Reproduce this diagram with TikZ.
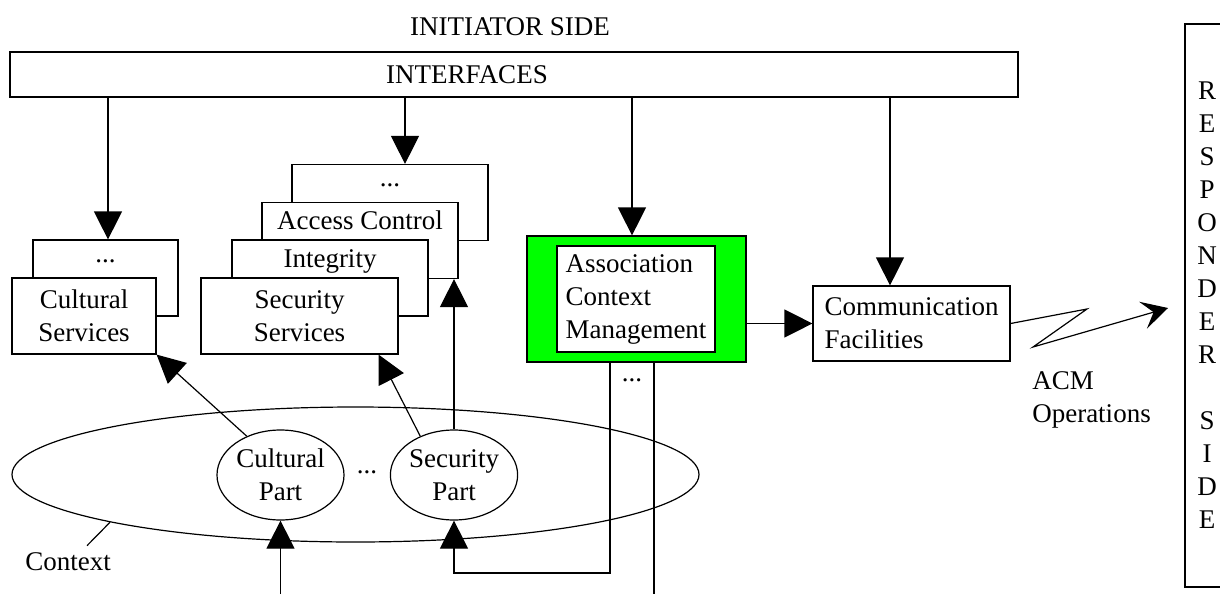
\documentclass[tikz,border=0pt]{standalone}
\usepackage{fontspec}
\setmainfont{Liberation Serif}
\usetikzlibrary{arrows.meta,shapes.geometric}
\definecolor{acmgreen}{RGB}{0,255,0}
\tikzset{
	svcbox/.style={draw, fill=white, inner sep=0pt, minimum height=38pt},
	backbox/.style={svcbox, text height=13.5pt, text depth=24.5pt},
	dotsbox/.style={svcbox, text height=11pt, text depth=27pt},
	frontbox/.style={svcbox, align=center},
	partnode/.style={draw, fill=white, ellipse, align=center, inner sep=0pt, minimum width=63.5pt, minimum height=45pt},
	arr/.style={-{Triangle[length=14pt,width=14pt]}},
}
\begin{document}
\begin{tikzpicture}[x=0.5pt, y=-0.5pt, font=\fontsize{13.5}{16.5}\selectfont, line width=0.6pt]
	\useasboundingbox (0,0) rectangle (1220,594);
	%sides
	\node (initiator) at (510,27) {INITIATOR SIDE};
	\node[draw, minimum width=504pt, minimum height=22.5pt] (ifbox) at (514,74.5) {};
	\node (iflabel) at (467,75) {INTERFACES};
	\node[draw, align=center, inner sep=0pt, text width=22pt, minimum height=281.5pt] (responder) at (1207,305.5)
	{R\\E\\S\\P\\O\\N\\D\\E\\R\\[16.5pt]S\\I\\D\\E};
	%services
	\node[dotsbox, minimum width=72.5pt] (cultdots) at (105.5,278) {...};
	\node[frontbox, minimum width=72pt] (cultserv) at (84,316) {Cultural\\Services};
	\node[dotsbox, minimum width=98pt] (secdots) at (390,202.5) {...};
	\node[backbox, minimum width=98pt] (access) at (360,240.5) {Access Control};
	\node[backbox, minimum width=98pt] (integrity) at (330,278) {Integrity};
	\node[frontbox, minimum width=98.5pt] (secserv) at (299.5,316) {Security\\Services};
	%acm and communication
	\node[draw, fill=acmgreen, minimum width=109.5pt, minimum height=63pt] (acmouter) at (636.5,299) {};
	\node[draw, fill=white, align=left, inner xsep=3.5pt, minimum width=79pt, minimum height=53pt] (acm) at (636,299)
	{Association\\Context\\Management};
	\node[draw, align=left, inner xsep=5pt, minimum width=98.5pt, minimum height=37.5pt] (comm) at (911.5,323.5)
	{Communication\\Facilities};
	\node[align=left, anchor=west] (acmops) at (1025,400) {ACM\\Operations};
	\node (acmdots) at (632,380) {...};
	%context
	\node[draw, ellipse, minimum width=343.5pt, minimum height=67.5pt] (context) at (355.5,474.5) {};
	\node[partnode] (cultpart) at (280.5,475) {Cultural\\Part};
	\node (partdots) at (367,472) {...};
	\node[partnode] (secpart) at (454,475) {Security\\Part};
	\node (contextlabel) at (68,562) {Context};
	%free ends
	\coordinate (cultin) at (280.5,594);
	\coordinate (acmout) at (654,594);
	\coordinate (secloop) at (454,573);
	\coordinate (zz1) at (1087,309);
	\coordinate (zz2) at (1033,347);
	\coordinate (zzend) at (1168,308);
	%arrows
	\draw[arr] ([xshift=1.25pt]cultdots.north |- ifbox.south) -- ([xshift=1.25pt]cultdots.north);
	\draw[arr] ([xshift=7.5pt]secdots.north |- ifbox.south) -- ([xshift=7.5pt]secdots.north);
	\draw[arr] ([xshift=-2.25pt]acmouter.north |- ifbox.south) -- ([xshift=-2.25pt]acmouter.north);
	\draw[arr] ([xshift=-10.75pt]comm.north |- ifbox.south) -- ([xshift=-10.75pt]comm.north);
	\draw[arr] (acmouter.east |- comm.west) -- (comm.west);
	\draw[-{Stealth[length=13pt,width=14pt,inset=5.5pt]}] (comm.east) -- (zz1) -- (zz2) -- (zzend);
	\draw[arr] (cultpart.131) -- (cultserv.south east);
	\draw[arr] (secpart.131) -- ([xshift=-10pt]secserv.south east);
	\draw[arr] (secpart.north) -- (secpart.north |- access.south);
	\draw[arr] (cultin) -- (cultpart.south);
	\draw[arr] ([xshift=-13.25pt]acmouter.south) |- (secloop) -- (secpart.south);
	\draw ([xshift=8.75pt]acmouter.south) -- (acmout);
	\draw ([xshift=9.5pt]contextlabel.north) -- (context.191);
\end{tikzpicture}
\end{document}
